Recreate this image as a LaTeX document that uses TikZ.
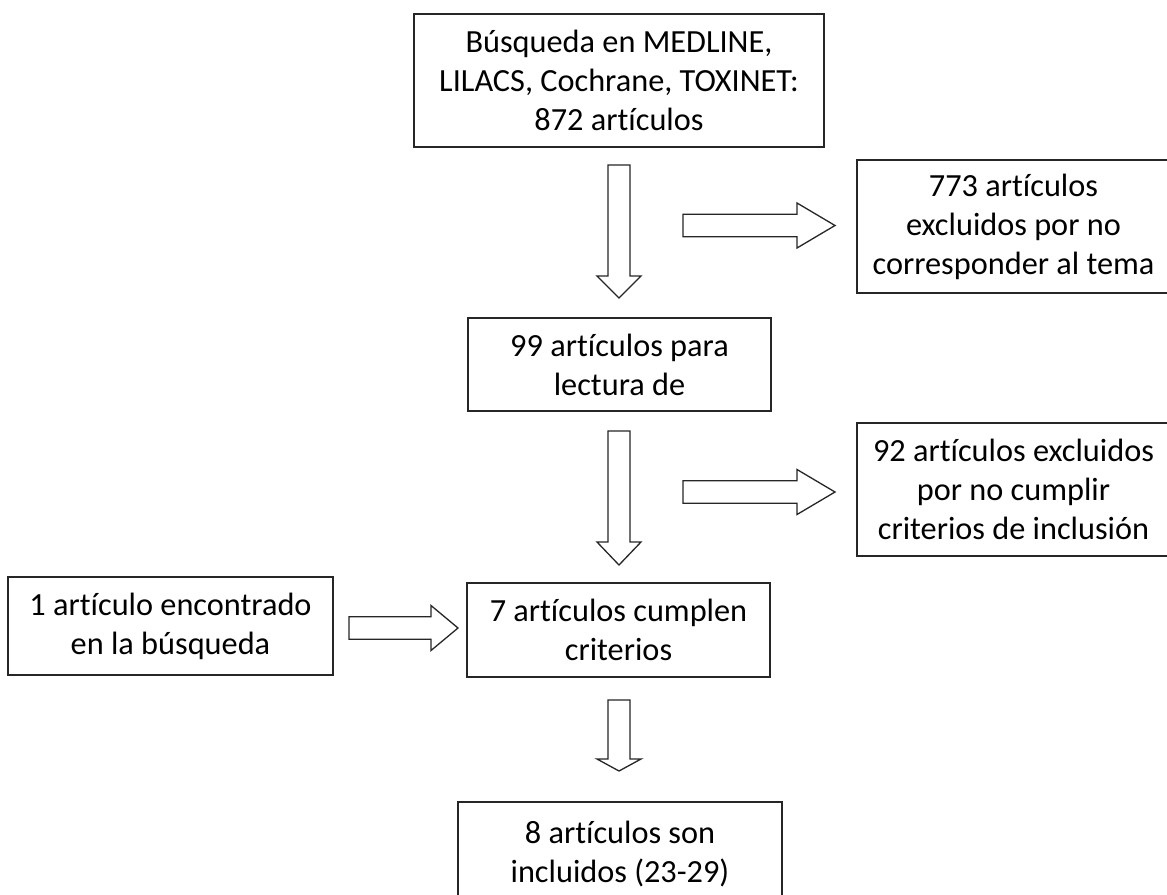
\documentclass[tikz,border=0pt]{standalone}
\usepackage{fontspec}
\setmainfont{Carlito}[Ligatures={NoCommon}]
\tikzset{
  box/.style={draw=black!85, line width=1.6pt, rectangle, inner sep=0pt, align=center,
    font=\fontsize{32.3}{39}\selectfont},
  blk/.style={draw=black!85, line width=1.3pt, fill=white, line join=miter}
}
\newcommand\downarr[4]{% x, top, base, tip
  \draw[blk] ({#1-11},#2) -- ({#1+11},#2) -- ({#1+11},#3) -- ({#1+22},#3) -- (#1,#4)
    -- ({#1-22},#3) -- ({#1-11},#3) -- cycle;}
\newcommand\rightarr[4]{% y, left, base, tip
  \draw[blk] (#2,{#1-11.2}) -- (#3,{#1-11.2}) -- (#3,{#1-22.5}) -- (#4,#1) -- (#3,{#1+22.5})
    -- (#3,{#1+11.2}) -- (#2,{#1+11.2}) -- cycle;}
\begin{document}
\begin{tikzpicture}[x=1pt,y=-1pt]
\path[use as bounding box, clip] (0,0) rectangle (1167,894);
\fill[white] (0,0) rectangle (1167,894);

\node[box, minimum width=410pt, minimum height=133pt] (b1) at (619,80.5)
  {Búsqueda en MEDLINE,\\LILACS, Cochrane, TOXINET:\\872 artículos};
\node[box, minimum width=313pt, minimum height=133pt] (b2) at (1013.5,226.5)
  {773 artículos\\excluidos por no\\corresponder al tema};
\node[box, minimum width=303pt, minimum height=93pt] (b3) at (619.5,364.5)
  {99 artículos para\\lectura de};
\node[box, minimum width=313pt, minimum height=133pt] (b4) at (1013.5,489.5)
  {92 artículos excluidos\\por no cumplir\\criterios de inclusión};
\node[box, minimum width=303pt, minimum height=94pt] (b5) at (618.5,630)
  {7 artículos cumplen\\criterios};
\node[box, minimum width=325pt, minimum height=98pt] (b6) at (170.5,626)
  {1 artículo encontrado\\en la búsqueda};
\node[box, minimum width=324pt, minimum height=104pt] (b7) at (620,854)
  {8 artículos son\\incluidos (23-29)};

\downarr{619}{165}{276}{298}
\rightarr{225.5}{683}{797}{835}
\downarr{619}{431}{542}{565}
\rightarr{492}{683}{797}{835}
\rightarr{628}{349}{431}{458}
\downarr{619}{700}{759}{771}
\end{tikzpicture}
\end{document}
